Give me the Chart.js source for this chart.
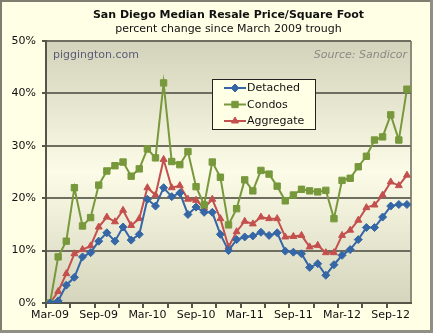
<!DOCTYPE html>
<html>
<head>
<meta charset="utf-8">
<script src="https://cdn.jsdelivr.net/npm/chart.js@4"></script>
<style>
  html, body { margin: 0; padding: 0; background: #ffffe6; }
  #wrap { width: 433px; height: 333px; position: relative; }
</style>
</head>
<body>
<div id="wrap"><canvas id="priceChart" width="433" height="333"></canvas></div>
<script>
// ========================
// DATA (percent change since Mar-09)
// ========================
const monthLabels = [
  "Mar-09", "Apr-09", "May-09", "Jun-09", "Jul-09", "Aug-09", "Sep-09", "Oct-09", "Nov-09", "Dec-09",
  "Jan-10", "Feb-10", "Mar-10", "Apr-10", "May-10", "Jun-10", "Jul-10", "Aug-10", "Sep-10", "Oct-10",
  "Nov-10", "Dec-10", "Jan-11", "Feb-11", "Mar-11", "Apr-11", "May-11", "Jun-11", "Jul-11", "Aug-11",
  "Sep-11", "Oct-11", "Nov-11", "Dec-11", "Jan-12", "Feb-12", "Mar-12", "Apr-12", "May-12", "Jun-12",
  "Jul-12", "Aug-12", "Sep-12", "Oct-12", "Nov-12"
];

const detached = [
  0, 0.4, 3.4, 4.9, 8.8, 9.6, 11.8, 13.4, 11.8, 14.5,
  12.0, 13.1, 19.8, 18.5, 22.0, 20.3, 21.0, 16.9, 18.3, 17.3,
  17.3, 13.1, 10.0, 12.1, 12.6, 12.8, 13.5, 12.9, 13.4, 9.9,
  9.7, 9.4, 6.8, 7.5, 5.3, 7.3, 9.1, 10.2, 12.1, 14.4,
  14.4, 16.4, 18.5, 18.8, 18.8
];

const condos = [
  0, 8.8, 11.8, 22.0, 14.7, 16.3, 22.5, 25.2, 26.2, 26.9,
  24.2, 25.6, 29.4, 27.7, 42.0, 27.0, 26.4, 28.9, 22.2, 18.7,
  26.9, 24.0, 14.9, 18.0, 23.5, 21.4, 25.3, 24.6, 22.3, 19.5,
  20.6, 21.7, 21.4, 21.2, 21.5, 16.1, 23.4, 23.8, 26.0, 28.0,
  31.1, 31.7, 35.9, 31.1, 40.8
];

const aggregate = [
  0, 2.2, 5.6, 9.4, 10.2, 10.9, 14.5, 16.4, 15.5, 17.7,
  14.8, 16.1, 22.0, 20.6, 27.4, 22.0, 22.4, 19.8, 19.6, 18.1,
  19.8, 16.1, 10.7, 13.6, 15.6, 15.1, 16.4, 16.1, 16.1, 12.6,
  12.7, 12.9, 10.7, 11.0, 9.6, 9.6, 12.9, 13.9, 15.8, 18.2,
  18.7, 20.6, 23.1, 22.4, 24.4
];

const yTicks = [0, 10, 20, 30, 40, 50];

const FONT = "'DejaVu Sans', Verdana, sans-serif";

// ========================
// PLUGIN: background, frame, title, legend
// ========================
const decorPlugin = {
  id: "decor",
  beforeDraw(chart) {
    const ctx = chart.ctx;
    const a = chart.chartArea;
    ctx.save();
    // outer background + frame
    ctx.fillStyle = "#ffffe6";
    ctx.fillRect(0, 0, chart.width, chart.height);
    ctx.strokeStyle = "#7d7d70";
    ctx.lineWidth = 2;
    ctx.strokeRect(1, 1, chart.width - 2, chart.height - 2);
    ctx.fillStyle = "#8f8f85";
    ctx.fillRect(chart.width - 3, 0, 3, chart.height);
    ctx.fillRect(0, chart.height - 3, chart.width, 3);

    // plot area gradient
    const g = ctx.createLinearGradient(0, a.top, 0, a.bottom);
    g.addColorStop(0, "#d3d3bb");
    g.addColorStop(0.5, "#fbfbe7");
    g.addColorStop(1, "#d5d5bd");
    ctx.fillStyle = g;
    ctx.fillRect(a.left, a.top, a.right - a.left, a.bottom - a.top);

    // right border of plot
    ctx.strokeStyle = "#8c8c7c";
    ctx.lineWidth = 2;
    ctx.beginPath();
    ctx.moveTo(a.right, a.top);
    ctx.lineTo(a.right, a.bottom);
    ctx.stroke();
    ctx.restore();
  },
  afterDraw(chart) {
    const ctx = chart.ctx;
    const a = chart.chartArea;
    const cx = (a.left + a.right) / 2;
    ctx.save();

    // titles
    ctx.textAlign = "center";
    ctx.textBaseline = "middle";
    ctx.fillStyle = "#111";
    ctx.font = "bold 11px " + FONT;
    ctx.fillText("San Diego Median Resale Price/Square Foot", cx, 15);
    ctx.font = "11px " + FONT;
    ctx.fillText("percent change since March 2009 trough", cx, 29);

    // watermarks
    ctx.textAlign = "left";
    ctx.fillStyle = "#5c5c78";
    ctx.font = "11px " + FONT;
    ctx.fillText("piggington.com", a.left + 7, 55);
    ctx.textAlign = "right";
    ctx.fillStyle = "#8a8a84";
    ctx.font = "italic 11px " + FONT;
    ctx.fillText("Source: Sandicor", a.right - 4, 55);

    // legend box
    const bx = 212, by = 79, bw = 103, bh = 50;
    ctx.fillStyle = "#ffffe6";
    ctx.fillRect(bx, by, bw, bh);
    ctx.strokeStyle = "#222";
    ctx.lineWidth = 1;
    ctx.strokeRect(bx + 0.5, by + 0.5, bw, bh);

    const rows = [88, 104.5, 121];
    chart.data.datasets.forEach((ds, i) => {
      const y = rows[i];
      ctx.strokeStyle = ds.borderColor;
      ctx.fillStyle = ds.borderColor;
      ctx.lineWidth = 2;
      ctx.beginPath();
      ctx.moveTo(224, y);
      ctx.lineTo(246, y);
      ctx.stroke();
      ctx.lineWidth = 1;
      Chart.helpers.drawPoint(ctx, {
        pointStyle: ds.pointStyle,
        radius: ds.pointRadius,
        borderWidth: 1
      }, 235, y);
      ctx.fillStyle = "#111";
      ctx.textAlign = "left";
      ctx.font = "11px " + FONT;
      ctx.fillText(ds.label, 247, y + 0.5);
    });
    ctx.restore();
  }
};

// ========================
// RENDER CHART
// ========================
function makeDataset(label, data, color, style, radius) {
  return {
    label: label,
    data: data,
    borderColor: color,
    backgroundColor: color,
    borderWidth: 2,
    pointStyle: style,
    pointRadius: radius,
    pointBorderWidth: 1,
    pointBorderColor: color,
    pointBackgroundColor: color,
    tension: 0
  };
}

const ctx = document.getElementById("priceChart").getContext("2d");

new Chart(ctx, {
  type: "line",
  data: {
    labels: monthLabels,
    datasets: [
      makeDataset("Detached", detached, "#3566a6", "rectRot", 4),
      makeDataset("Condos", condos, "#77983b", "rect", 4.5),
      makeDataset("Aggregate", aggregate, "#c4504e", "triangle", 4)
    ]
  },
  options: {
    responsive: false,
    animation: false,
    layout: { padding: { top: 41, right: 22, left: 0, bottom: 0 } },
    plugins: {
      legend: { display: false },
      title: { display: false },
      tooltip: { enabled: false }
    },
    scales: {
      x: {
        offset: true,
        grid: {
          offset: true,
          drawOnChartArea: false,
          tickLength: 5,
          lineWidth: 2,
          tickColor: (c) => (c.index % 3 === 0 ? "#555548" : "rgba(0,0,0,0)")
        },
        border: { color: "#555548", width: 2 },
        ticks: {
          autoSkip: false,
          maxRotation: 0,
          minRotation: 0,
          padding: 1,
          color: "#111",
          font: { family: FONT, size: 11 },
          callback: (val, idx) => (idx % 6 === 0 ? monthLabels[idx] : "")
        },
        afterFit: (scale) => { scale.height = 30; }
      },
      y: {
        min: 0,
        max: 50,
        afterBuildTicks: (scale) => { scale.ticks = yTicks.map(v => ({ value: v })); },
        grid: {
          color: "#6e6e60",
          lineWidth: 2,
          tickLength: 4,
          tickColor: "#555548"
        },
        border: { color: "#555548", width: 2 },
        ticks: {
          padding: 6,
          color: "#111",
          font: { family: FONT, size: 11 },
          callback: (v) => v + "%"
        },
        afterFit: (scale) => { scale.width = 46; }
      }
    }
  },
  plugins: [decorPlugin]
});
</script>
</body>
</html>
